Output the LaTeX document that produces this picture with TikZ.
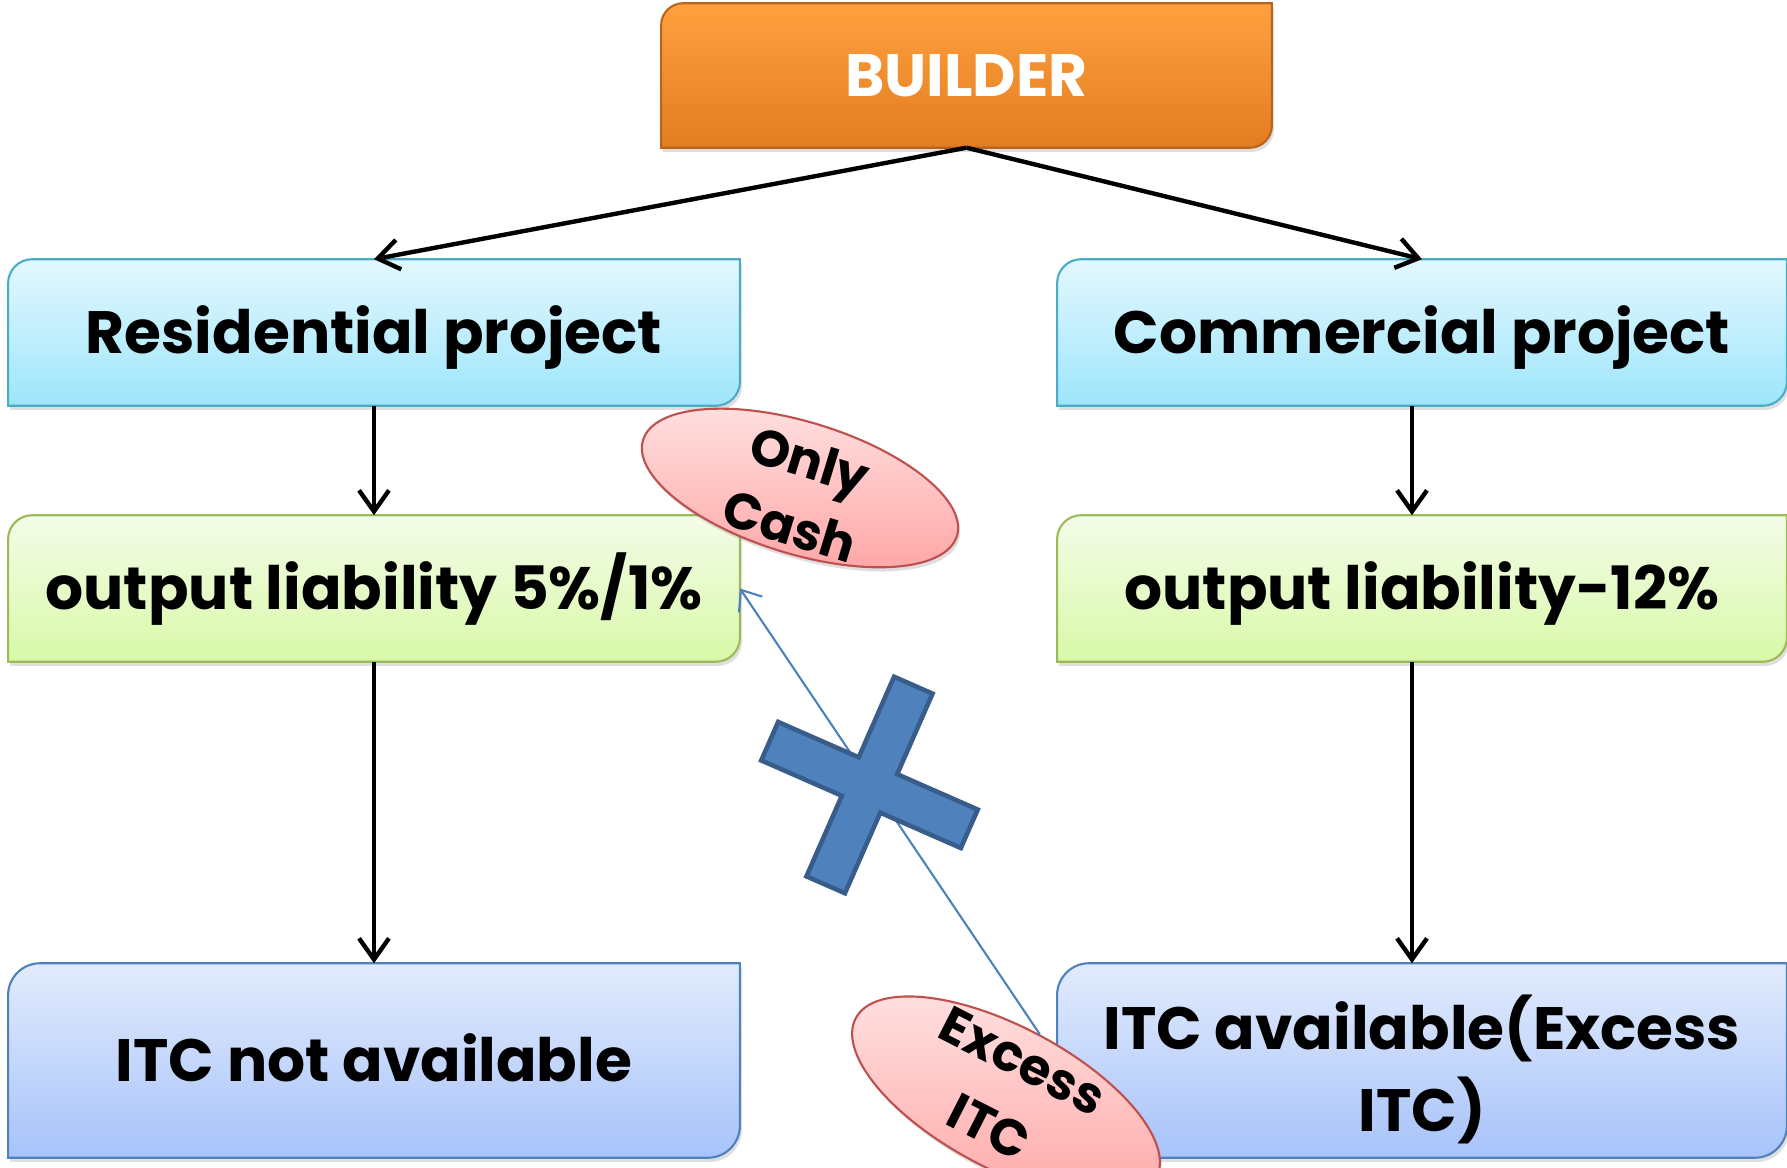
\documentclass[tikz,border=0pt]{standalone}
\usepackage{fontspec}
\setmainfont{Poppins}
\usetikzlibrary{arrows.meta,shapes.geometric,shadows,calc}

\definecolor{orangeTop}{HTML}{FFA13F}
\definecolor{orangeBot}{HTML}{E27C21}
\definecolor{orangeLine}{HTML}{B8641E}
\definecolor{cyanTop}{HTML}{E4F8FE}
\definecolor{cyanBot}{HTML}{9DE5FB}
\definecolor{cyanLine}{HTML}{4BACC6}
\definecolor{greenTop}{HTML}{F4FCE9}
\definecolor{greenBot}{HTML}{D8F9A8}
\definecolor{greenLine}{HTML}{9BBB59}
\definecolor{blueTop}{HTML}{E2EBFC}
\definecolor{blueBot}{HTML}{A7C3FA}
\definecolor{blueLine}{HTML}{4F81BD}
\definecolor{pinkTop}{HTML}{FFE2E2}
\definecolor{pinkBot}{HTML}{FFA6A6}
\definecolor{pinkLine}{HTML}{C0504D}
\definecolor{crossFill}{HTML}{4F81BD}
\definecolor{crossLine}{HTML}{385D8A}

\pgfdeclarelayer{background}
\pgfsetlayers{background,main}

% box outline with rounded top-left and bottom-right corners
\newcommand\diagcorners[3]{%
  \path[#3] (#1.south west) -- ([yshift=-#2]#1.north west)
    arc[start angle=180,end angle=90,radius=#2] -- (#1.north east)
    -- ([yshift=#2]#1.south east)
    arc[start angle=0,end angle=-90,radius=#2] -- cycle;}

\tikzset{
  boxtext/.style={inner sep=0pt, align=center,
    font=\fontsize{17}{23.3}\selectfont\bfseries},
  capcentred/.style={text height=16pt, text depth=4.1pt},
  rowbox/.style={boxtext, capcentred, minimum width=7.3cm, minimum height=1.45cm},
  tallbox/.style={boxtext, minimum width=7.3cm, minimum height=1.93cm},
  softshadow/.style={drop shadow={opacity=0.25, shadow xshift=0.6pt, shadow yshift=-1.2pt}},
  cyanfill/.style={softshadow, top color=cyanTop, bottom color=cyanBot, draw=cyanLine, line width=0.6pt},
  greenfill/.style={softshadow, top color=greenTop, bottom color=greenBot, draw=greenLine, line width=0.6pt},
  bluefill/.style={softshadow, top color=blueTop, bottom color=blueBot, draw=blueLine, line width=0.6pt},
  orangefill/.style={softshadow, top color=orangeTop, bottom color=orangeBot, draw=orangeLine, line width=0.6pt},
  conn/.style={draw=black, line width=1.25pt, -{Straight Barb[length=6pt,width=8.5pt]}},
  xline/.style={draw=blueLine, line width=0.6pt, -{Straight Barb[length=5pt,width=8pt]}},
  tag/.style={ellipse, inner sep=0pt, softshadow,
    top color=pinkTop, bottom color=pinkBot, draw=pinkLine, line width=0.6pt},
  tagtext/.style={inner sep=0pt, align=center, font=\fontsize{14.5}{19.5}\selectfont\bfseries},
}

\begin{document}
\begin{tikzpicture}[x=0.01cm, y=-0.01cm]
\useasboundingbox (0,0) rectangle (1787,1168);
\clip (0,0) rectangle (1787,1168);

% boxes
\node[boxtext, capcentred, text=white, font=\fontsize{17}{20}\selectfont\bfseries,
      minimum width=6.09cm, minimum height=1.43cm] (builder) at (966.5,75.5) {BUILDER};
\node[rowbox] (res)  at (374,332.5)  {Residential project};
\node[rowbox, minimum width=7.28cm] (com)  at (1422,332.5) {Commercial project};
\node[rowbox] (out1) at (374,588.5)  {output liability 5\%/1\%};
\node[rowbox, minimum width=7.28cm] (out2) at (1422,588.5) {output liability-12\%};
\node[tallbox, capcentred] (itc1) at (374,1060.5) {ITC not available};
\node[tallbox, minimum width=7.28cm] (itc2) at (1422,1060.5) {};
\node[boxtext] (itc2text) at ([yshift=-0.09cm]itc2.center) {ITC available(Excess\\ITC)};

\begin{pgfonlayer}{background}
  \diagcorners{builder}{0.22cm}{orangefill}
  \diagcorners{res}{0.24cm}{cyanfill}
  \diagcorners{com}{0.24cm}{cyanfill}
  \diagcorners{out1}{0.24cm}{greenfill}
  \diagcorners{out2}{0.24cm}{greenfill}
  \diagcorners{itc1}{0.32cm}{bluefill}
  \diagcorners{itc2}{0.32cm}{bluefill}
\end{pgfonlayer}

% flow connectors
\draw[conn] (builder.south) -- (res.north);
\draw[conn] (builder.south) -- (com.north);
\draw[conn] (res.south) -- (out1.north);
\draw[conn] ([xshift=-0.1cm]com.south) -- ([xshift=-0.1cm]out2.north);
\draw[conn] (out1.south) -- (itc1.north);
\draw[conn] ([xshift=-0.1cm]out2.south) -- ([xshift=-0.1cm]itc2.north);

% labels
\node[tag, minimum width=3.28cm, minimum height=1.32cm, rotate=-17] (cash) at (800,488) {};
\node[tagtext, rotate=-17] (cashtext) at ([yshift=-0.05cm]cash.center) {Only\\Cash};
\node[tag, minimum width=3.40cm, minimum height=1.42cm, rotate=-28] (excess) at (1006,1098) {};
\node[tagtext, rotate=-27, font=\fontsize{14.5}{21}\selectfont\bfseries] (excesstext) at ([yshift=0.04cm]excess.center) {Excess\\ITC};

% excess credit cannot flow back
\draw[xline] (excess.north) -- (out1.east);

% blocking cross
\begin{scope}[shift={(869.5,785)}, rotate=-23.7]
  \filldraw[fill=crossFill, draw=crossLine, line width=1.3pt, line join=miter]
    (21,109) -- (21,21) -- (109,21) -- (109,-21) -- (21,-21) -- (21,-109)
    -- (-21,-109) -- (-21,-21) -- (-109,-21) -- (-109,21) -- (-21,21) -- (-21,109) -- cycle;
\end{scope}
\end{tikzpicture}
\end{document}
